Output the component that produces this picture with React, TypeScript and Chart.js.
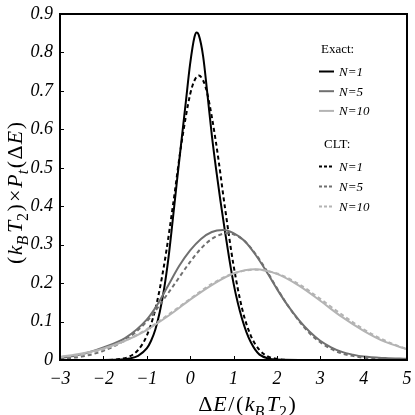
import React, { useEffect, useRef } from "react";
import { Chart, registerables } from "chart.js";

Chart.register(...registerables);

// ---- data ----
const xMin = -3;
const xMax = 5;
const yMin = 0;
const yMax = 0.9;

const exactN1X = [-3, -2, -1.6, -1.4, -1.2, -1.0, -0.9, -0.8, -0.7, -0.6, -0.5, -0.4, -0.3, -0.2, -0.1, 0, 0.1, 0.15, 0.2, 0.3, 0.4, 0.5, 0.6, 0.7, 0.8, 0.9, 1.0, 1.1, 1.2, 1.3, 1.4, 1.5, 1.6, 1.8, 2.0, 2.5, 5];
const exactN1Y = [0, 0, 0.001, 0.004, 0.011, 0.03, 0.05, 0.08, 0.125, 0.185, 0.265, 0.365, 0.469, 0.57, 0.67, 0.77, 0.84, 0.852, 0.845, 0.79, 0.69, 0.585, 0.495, 0.413, 0.337, 0.265, 0.2, 0.148, 0.106, 0.072, 0.046, 0.027, 0.014, 0.004, 0.001, 0, 0];

const exactN5X = [-3, -2.5, -2, -1.5, -1, -0.75, -0.5, -0.25, 0, 0.25, 0.5, 0.75, 1, 1.25, 1.5, 1.75, 2, 2.25, 2.5, 2.75, 3, 3.25, 3.5, 3.75, 4, 4.5, 5];
const exactN5Y = [0.005, 0.015, 0.033, 0.057, 0.105, 0.145, 0.195, 0.245, 0.285, 0.315, 0.333, 0.338, 0.33, 0.31, 0.275, 0.232, 0.185, 0.142, 0.105, 0.074, 0.05, 0.033, 0.021, 0.014, 0.009, 0.005, 0.003];

const exactN10X = [-3, -2.5, -2, -1.5, -1, -0.5, 0, 0.5, 1, 1.5, 2, 2.5, 3, 3.5, 4, 4.5, 5];
const exactN10Y = [0.008, 0.017, 0.03, 0.05, 0.078, 0.115, 0.157, 0.195, 0.225, 0.236, 0.224, 0.194, 0.154, 0.112, 0.076, 0.047, 0.028];

const cltN1X = [-3, -2, -1.6, -1.4, -1.2, -1.0, -0.8, -0.6, -0.4, -0.2, 0, 0.1, 0.2, 0.3, 0.4, 0.6, 0.8, 1.0, 1.2, 1.4, 1.6, 1.8, 2.0, 2.4, 5];
const cltN1Y = [0, 0, 0.003, 0.009, 0.026, 0.063, 0.133, 0.247, 0.399, 0.563, 0.691, 0.727, 0.74, 0.727, 0.691, 0.563, 0.399, 0.247, 0.133, 0.063, 0.026, 0.009, 0.003, 0, 0];

const cltN5X = [-3, -2.5, -2, -1.5, -1, -0.5, 0, 0.25, 0.5, 0.75, 0.85, 1, 1.25, 1.5, 1.75, 2, 2.25, 2.5, 2.75, 3, 3.25, 3.5, 4, 4.5, 5];
const cltN5Y = [0.003, 0.009, 0.024, 0.052, 0.1, 0.175, 0.255, 0.29, 0.315, 0.328, 0.33, 0.327, 0.31, 0.277, 0.235, 0.187, 0.142, 0.103, 0.07, 0.046, 0.029, 0.017, 0.006, 0.002, 0.0005];

const cltN10X = [-3, -2.5, -2, -1.5, -1, -0.5, 0, 0.5, 1, 1.5, 2, 2.5, 3, 3.5, 4, 4.5, 5];
const cltN10Y = [0.007, 0.015, 0.028, 0.05, 0.08, 0.118, 0.159, 0.198, 0.225, 0.235, 0.225, 0.198, 0.159, 0.118, 0.08, 0.05, 0.028];

const legendExactLabels = ["N=1", "N=5", "N=10"];
const legendCltLabels = ["N=1", "N=5", "N=10"];

const BLACK = "#000000";
const MID = "#707070";
const LIGHT = "#b4b4b4";
const SERIF = "'Liberation Serif', 'DejaVu Serif', serif";

const zip = (xs: number[], ys: number[]) => xs.map((x, i) => ({ x, y: ys[i] }));

type Piece = { t: string; it?: boolean; sub?: boolean; gap?: number };

function drawRich(ctx: CanvasRenderingContext2D, pieces: Piece[], cx: number, baseY: number, size: number) {
  const fontOf = (p: Piece) => `${p.it ? "italic " : ""}${p.sub ? Math.round(size * 0.72) : size}px ${SERIF}`;
  let total = 0;
  for (const p of pieces) {
    ctx.font = fontOf(p);
    total += ctx.measureText(p.t).width + (p.gap || 0);
  }
  let x = cx - total / 2;
  ctx.textAlign = "left";
  ctx.textBaseline = "alphabetic";
  for (const p of pieces) {
    ctx.font = fontOf(p);
    ctx.fillText(p.t, x, baseY + (p.sub ? size * 0.28 : 0));
    x += ctx.measureText(p.t).width + (p.gap || 0);
  }
}

const decorPlugin = {
  id: "decor",
  afterDraw(chart: any) {
    const ctx: CanvasRenderingContext2D = chart.ctx;
    const { left, right, top, bottom } = chart.chartArea;
    const xs = chart.scales.x;
    const ys = chart.scales.y;
    ctx.save();
    // frame
    ctx.strokeStyle = "#000";
    ctx.lineWidth = 2;
    ctx.strokeRect(left, top, right - left, bottom - top);
    // inner ticks
    ctx.lineWidth = 1;
    ctx.beginPath();
    for (let v = xMin; v <= xMax; v++) {
      const px = Math.round(xs.getPixelForValue(v)) + 0.5;
      ctx.moveTo(px, bottom);
      ctx.lineTo(px, bottom - 4);
    }
    for (let i = 0; i <= 9; i++) {
      const py = Math.round(ys.getPixelForValue(i / 10)) + 0.5;
      ctx.moveTo(left, py);
      ctx.lineTo(left + 4, py);
    }
    ctx.stroke();

    ctx.fillStyle = "#000";
    // x title
    drawRich(
      ctx,
      [
        { t: "Δ", gap: 1 },
        { t: "E", it: true, gap: 1.5 },
        { t: "/", gap: 1.5 },
        { t: "(", gap: 1.5 },
        { t: "k", it: true, gap: 0 },
        { t: "B", it: true, sub: true, gap: 2.5 },
        { t: "T", it: true, gap: 0 },
        { t: "2", sub: true, gap: 1.5 },
        { t: ")" },
      ],
      247,
      411,
      22
    );
    // y title (rotated)
    ctx.save();
    ctx.translate(22, 193);
    ctx.rotate(-Math.PI / 2);
    drawRich(
      ctx,
      [
        { t: "(", gap: 1.5 },
        { t: "k", it: true, gap: 0 },
        { t: "B", it: true, sub: true, gap: 2.5 },
        { t: "T", it: true, gap: 0 },
        { t: "2", sub: true, gap: 1.5 },
        { t: ")", gap: 2 },
        { t: "×", gap: 2 },
        { t: "P", it: true, gap: 0 },
        { t: "t", it: true, sub: true, gap: 1.5 },
        { t: "(", gap: 1.5 },
        { t: "Δ", gap: 1 },
        { t: "E", it: true, gap: 1.5 },
        { t: ")" },
      ],
      0,
      0,
      22
    );
    ctx.restore();

    // legend
    const drawHeader = (txt: string, x: number, y: number) => {
      ctx.font = `13px ${SERIF}`;
      ctx.textAlign = "left";
      ctx.textBaseline = "middle";
      ctx.fillStyle = "#000";
      ctx.fillText(txt, x, y);
    };
    const drawRow = (label: string, color: string, dashed: boolean, y: number) => {
      ctx.save();
      ctx.strokeStyle = color;
      ctx.lineWidth = 2;
      ctx.setLineDash(dashed ? [3, 2] : []);
      ctx.beginPath();
      ctx.moveTo(319, y);
      ctx.lineTo(334, y);
      ctx.stroke();
      ctx.restore();
      ctx.font = `italic 13px ${SERIF}`;
      ctx.textAlign = "left";
      ctx.textBaseline = "middle";
      ctx.fillStyle = "#000";
      ctx.fillText(label, 339, y + 1);
    };
    const cols = [BLACK, MID, LIGHT];
    drawHeader("Exact:", 321, 50);
    legendExactLabels.forEach((l, i) => drawRow(l, cols[i], false, 71.5 + i * 19.7));
    drawHeader("CLT:", 324, 145);
    legendCltLabels.forEach((l, i) => drawRow(l, cols[i], true, 166.5 + i * 20));
    ctx.restore();
  },
};

export default function App() {
  const ref = useRef<HTMLCanvasElement | null>(null);
  useEffect(() => {
    if (!ref.current) return;
    const mk = (xs: number[], ys: number[], color: string, dashed: boolean) => ({
      data: zip(xs, ys),
      borderColor: color,
      backgroundColor: color,
      borderWidth: 2,
      borderDash: dashed ? [4, 3] : [],
      pointRadius: 0,
      showLine: true,
      fill: false,
      cubicInterpolationMode: "monotone" as const,
    });
    const chart = new Chart(ref.current, {
      type: "scatter",
      data: {
        datasets: [
          mk(exactN10X, exactN10Y, LIGHT, false),
          mk(cltN10X, cltN10Y, LIGHT, true),
          mk(exactN5X, exactN5Y, MID, false),
          mk(cltN5X, cltN5Y, MID, true),
          mk(exactN1X, exactN1Y, BLACK, false),
          mk(cltN1X, cltN1Y, BLACK, true),
        ],
      },
      options: {
        animation: false,
        responsive: false,
        layout: { padding: { left: 0, right: 8, top: 14, bottom: 0 } },
        plugins: { legend: { display: false }, tooltip: { enabled: false } },
        scales: {
          x: {
            type: "linear",
            min: xMin,
            max: xMax,
            grid: { display: false, drawTicks: false },
            border: { display: false },
            ticks: {
              stepSize: 1,
              padding: 8,
              color: "#000",
              font: { family: SERIF, size: 18, style: "italic" },
              callback: (v: any) => String(v).replace("-", "\u2212"),
            },
            afterFit: (s: any) => {
              s.height = 55;
              s.paddingLeft = 0;
              s.paddingRight = 0;
            },
          },
          y: {
            min: yMin,
            max: yMax,
            grid: { display: false, drawTicks: false },
            border: { display: false },
            ticks: {
              stepSize: 0.1,
              padding: 7,
              color: "#000",
              font: { family: SERIF, size: 18, style: "italic" },
              callback: (v: any) => (Number(v) === 0 ? "0" : Number(v).toFixed(1)),
            },
            afterFit: (s: any) => {
              s.width = 60;
              s.paddingTop = 0;
              s.paddingBottom = 0;
            },
          },
        },
      },
      plugins: [decorPlugin],
    });
    return () => chart.destroy();
  }, []);
  return (
    <div style={{ position: "absolute", left: 0, top: 0, width: 415, height: 415, background: "#fff" }}>
      <canvas ref={ref} width={415} height={415} />
    </div>
  );
}
